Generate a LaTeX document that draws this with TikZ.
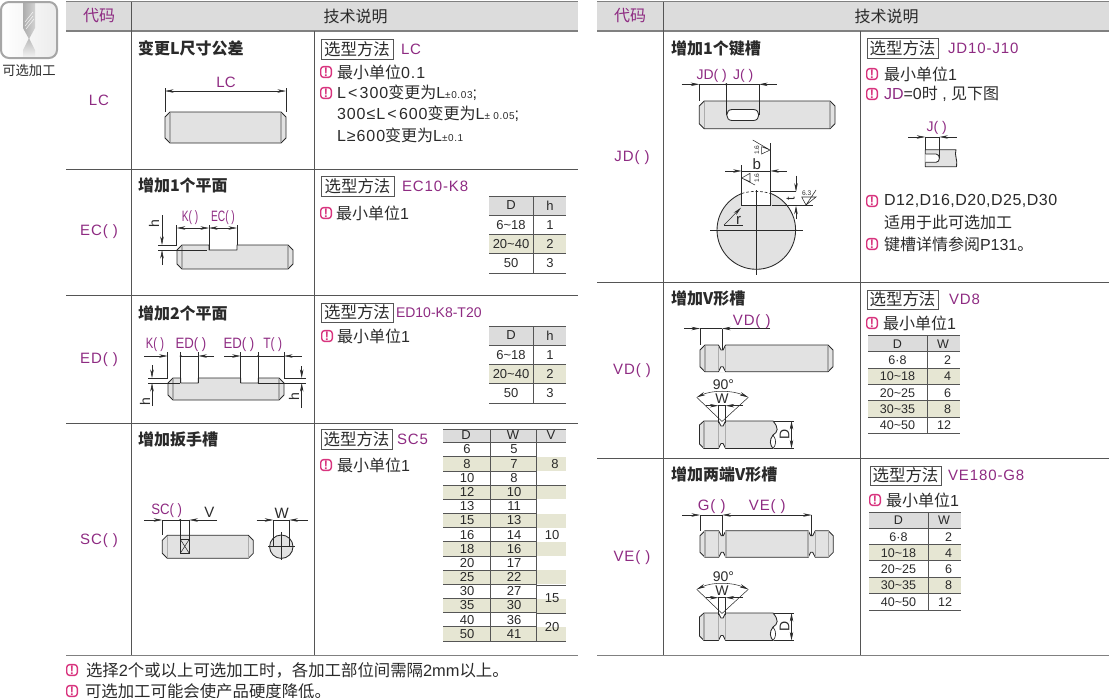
\documentclass[tikz,border=0pt]{standalone}
\usepackage{fontspec}
\setmainfont{Liberation Sans}
\newfontfamily\cjk{Noto Sans CJK SC}
\newfontfamily\spc[LetterSpace=6]{Liberation Sans}
\newfontfamily\spd[LetterSpace=3]{Liberation Sans}
\usetikzlibrary{arrows.meta}
\definecolor{pur}{HTML}{8E2B82}
\definecolor{ink}{HTML}{2A2A2A}
\definecolor{rule}{HTML}{555555}
\definecolor{headg}{HTML}{DCDCDC}
\definecolor{olive}{HTML}{E6E6D3}
\definecolor{body}{HTML}{E2E2E2}
\definecolor{pinkw}{HTML}{D8347E}
\newcommand\cn[1]{{\cjk #1}}
\newcommand\sgap{\hspace{.14em}}
\newcount\nid
\tikzset{
  x=0.75pt,y=-0.75pt,
  txt/.style={inner sep=0pt,outer sep=0pt,text=ink},
  ln/.style={draw=rule,line width=0.75pt},
  dim/.style={draw=ink,line width=0.4pt},
  tip/.style={-{Stealth[length=6.5pt,width=2.6pt]}},
  bitip/.style={{Stealth[length=6.5pt,width=2.6pt]}-{Stealth[length=6.5pt,width=2.6pt]}},
  part/.style={draw=ink,line width=0.65pt,fill=body,line join=round},
  sec/.style={draw=gray!65,line width=1pt},
  f10/.style={font=\fontsize{7.5}{9}\selectfont},
  f12/.style={font=\fontsize{9.4}{11}\selectfont},
  f13/.style={font=\fontsize{9.75}{12}\selectfont},
  f14/.style={font=\fontsize{10.5}{13}\selectfont},
  f15/.style={font=\fontsize{11.25}{14}\selectfont},
  f16/.style={font=\fontsize{12}{15}\selectfont},
  f16b/.style={font=\fontsize{12.35}{15}\selectfont},
}
% generic text: [opts]{x}{y}{text}
\newcommand\T[4][]{\global\advance\nid by 1 \node[txt,#1] (n\the\nid) at ({#2},{#3}) {#4};}
\newcommand\Pl[4][]{\T[anchor=center,text=pur,f15,#1]{#2}{#3}{\spc #4}}
\newcommand\warn[2]{%
  \draw[pinkw,line width=1.05pt,fill=white,rounded corners=2.2pt] ({#1-5.3},{#2-5.4}) rectangle ({#1+5.3},{#2+5.4});
  \T[text=pinkw,f12]{#1}{#2}{\textbf{!}}}
\newcommand\sel[6]{% x1 x2 y1 y2 code-x code
  \draw[draw=rule,line width=.6pt] (#1,#3) rectangle (#2,#4);
  \T[f16b]{(#1+#2)/2}{(#3+#4)/2}{\cn{选型方法}}
  \T[anchor=west,text=pur,f15]{#5}{(#3+#4)/2}{#6}}
\newcommand\cond[3]{\T[anchor=west,f16]{#1}{#2}{#3}}
\newcommand\bold[3]{\T[anchor=west,f16]{#1}{#2}{\cjk\bfseries #3}}
% pin: x1 x2 y1 y2
\newcommand\pin[4]{%
  \draw[part] ({#1+5},#3)--({#2-5},#3)--(#2,{#3+5})--(#2,{#4-5})--({#2-5},#4)--({#1+5},#4)--(#1,{#4-5})--(#1,{#3+5})--cycle;
  \draw[sec] ({#1+5},{#3+.6})--({#1+5},{#4-.6}) ({#2-5},{#3+.6})--({#2-5},{#4-.6});}
% groove over a pin: x y1 y2
\newcommand\groove[3]{%
  \fill[white] ({#1-3.6},{#2-1})--({#1+3.6},{#2-1})--({#1+1},{#2+5})--({#1-1},{#2+5})--cycle
    ({#1-3.6},{#3+1})--({#1+3.6},{#3+1})--({#1+1},{#3-5})--({#1-1},{#3-5})--cycle;
  \draw[ink,line width=.65pt] ({#1-3.6},#2)--({#1-1},{#2+5})--({#1+1},{#2+5})--({#1+3.6},#2)
    ({#1-3.6},#3)--({#1-1},{#3-5})--({#1+1},{#3-5})--({#1+3.6},#3);
  \draw[sec] ({#1-3.6},{#2+.6})--({#1-3.6},{#3-.6}) ({#1+3.6},{#2+.6})--({#1+3.6},{#3-.6});}
% lower view with 90 deg V
\newcommand\vlower[1]{%
  \begin{scope}[yshift=-#1*0.75pt]
  \draw[part] (704,421)--(773,421) .. controls (779,428) and (778,432) .. (773,435) .. controls (769,440) and (770,445) .. (773,448.5)--(704,448.5)--(699.5,444)--(699.5,425)--cycle;
  \draw[ink,line width=.5pt] (773,435) .. controls (777,440) and (776,445) .. (773,448.5);
  \draw[sec] (704,421.6)--(704,447.9);
  \groove{722}{421}{448.5}
  \draw[dim] (722,421.5)--(696.7,397.3) (722,421.5)--(748.3,397.3);
  \draw[dim,bitip] (696.7,397.3) .. controls (712,390) and (732,390) .. (748.3,397.3);
  \draw[dim] (718.4,405.7)--(718.4,423) (725.6,405.7)--(725.6,423);
  \draw[dim,tip] (706,405.7)--(718.4,405.7);
  \draw[dim,tip] (743,405.7)--(725.6,405.7);
  \draw[dim] (718.4,405.7)--(725.6,405.7);
  \draw[dim] (774,421)--(794,421) (774,448.5)--(794,448.5);
  \draw[dim,bitip] (791.5,421)--(791.5,448.5);
  \T[f14]{723.5}{384.5}{90°}
  \T[f14]{722}{398.5}{W}
  \T[f14,rotate=90]{784.5}{434.5}{D}
  \end{scope}}
\begin{document}
\begin{tikzpicture}
\useasboundingbox (0,0) rectangle (1110,697);
%% icon
\shade[left color=white,right color=gray!15,rounded corners=6pt] (1,2) rectangle (57,58);
\shade[left color=gray!65,right color=gray!35] (23,2)--(35,2)--(35,28)--(29,39)--(23,28)--cycle;
\draw[white,line width=.3pt] (25,22)--(33,12) (25,26)--(33,16) (26,29)--(34,19);
\shade[top color=gray!55,bottom color=gray!8] (29,38)--(35,50)--(35,58)--(23,58)--(23,50)--cycle;
\draw[draw=gray!70,line width=1.5pt,rounded corners=6pt] (1,2) rectangle (57,58);
\T[font=\fontsize{10}{12}\selectfont]{29}{70}{\cn{可选加工}}
%% header bands
\fill[headg] (66,2) rectangle (578,31);
\fill[headg] (597,2) rectangle (1109,31);
\draw[draw=gray,line width=1.2pt] (66,1.5)--(578,1.5) (597,1.5)--(1109,1.5);
\draw[draw=gray,line width=1.1pt] (66,31)--(578,31) (597,31)--(1109,31);
%% left rules
\draw[ln] (131,2)--(131,655) (314,31)--(314,655);
\draw[ln] (66,169)--(578,169) (66,295)--(578,295) (66,423)--(578,423);
\draw[draw=gray,line width=1.1pt] (66,655.5)--(578,655.5);
%% right rules
\draw[ln] (663,2)--(663,656) (860,31)--(860,656);
\draw[ln] (597,282)--(1109,282) (597,458)--(1109,458);
\draw[draw=gray,line width=.8pt] (597,655.5)--(1109,655.5);
%% header text
\T[text=pur,f16]{99}{16}{\cn{代码}}
\T[f16]{355.5}{16}{\cn{技术说明}}
\T[text=pur,f16]{630}{16}{\cn{代码}}
\T[f16]{886.5}{16}{\cn{技术说明}}
%% codes
\Pl{99}{100}{LC}
\Pl{99}{232}{EC( )}
\Pl{99}{360}{ED( )}
\Pl{99}{541}{SC( )}
\Pl{632}{158}{JD( )}
\Pl{632}{371}{VD( )}
\Pl{632}{558}{VE( )}
%% titles
\bold{138}{48.5}{变更L尺寸公差}
\bold{138}{185}{增加1个平面}
\bold{138}{313}{增加2个平面}
\bold{138}{439}{增加扳手槽}
\bold{671}{48}{增加1个键槽}
\bold{671}{298.5}{增加V形槽}
\bold{671}{474}{增加两端V形槽}
%% selection
\sel{321}{393}{39}{59}{401}{\spc LC}
\sel{321}{394}{176}{196}{402}{\spc EC10-K8}
\sel{321}{393}{303}{322}{396}{\fontsize{10.5}{13}\selectfont ED10-K8-T20}
\sel{321}{392}{429}{449}{397}{\spc SC5}
\sel{867}{938}{38}{58}{948}{\spc JD10-J10}
\sel{867}{938}{290}{309}{949}{\spc VD8}
\sel{870}{941}{466}{485}{948}{\spc VE180-G8}
%% conditions LC
\warn{326}{72}
\cond{337}{72}{\cn{最小单位}{\spc 0.1}}
\warn{326}{93}
\cond{337}{93}{\spc L\sgap<\sgap 300\cn{变更为}L{\fontsize{7.5}{9}\selectfont ±0.03};}
\cond{337}{114}{\spc 300≤L\sgap<\sgap 600\cn{变更为}L{\fontsize{7.5}{9}\selectfont ± 0.05};}
\cond{337}{135}{\spc L≥600\cn{变更为}L{\fontsize{7.5}{9}\selectfont ±0.1}}
\warn{326}{213}
\cond{336}{213}{\cn{最小单位}1}
\warn{327}{336}
\cond{337}{336}{\cn{最小单位}1}
\warn{326}{465}
\cond{337}{465}{\cn{最小单位}1}
\warn{872}{74}
\cond{884}{74}{\cn{最小单位}1}
\warn{872}{94}
\cond{884}{94}{\textcolor{pur}{JD}=0\cn{时} , \cn{见下图}}
\warn{872}{201}
\cond{884}{201}{\spd D12,D16,D20,D25,D30}
\cond{884}{222}{\cn{适用于此可选加工}}
\warn{872}{244}
\cond{884}{244}{\cn{键槽详情参阅}P131\cn{。}}
\warn{872}{323}
\cond{883}{323}{\cn{最小单位}1}
\warn{875}{500}
\cond{886}{500}{\cn{最小单位}1}
%% footnotes
\warn{72}{670}
\T[anchor=west,font=\fontsize{12.3}{15}\selectfont]{86}{670}{\cn{选择}2\cn{个或以上可选加工时，各加工部位间需隔}2mm\cn{以上。}}
\warn{72}{691}
\T[anchor=west,font=\fontsize{12.3}{15}\selectfont]{85}{691}{\cn{可选加工可能会使产品硬度降低。}}
%% D/h tables
\foreach \yb in {0,130}{
  \begin{scope}[yshift=-\yb*0.75pt]
  \fill[headg] (489,196) rectangle (566,215);
  \fill[olive] (489,234) rectangle (566,253);
  \draw[ln] (489,196)--(566,196) (489,215)--(566,215) (489,234)--(566,234) (489,253)--(566,253) (489,273)--(566,273) (533,196)--(533,273);
  \end{scope}}
\T[f13]{511}{205.5}{D}\T[f13]{550}{205.5}{h}
\T[f13]{511}{225}{6\textasciitilde18}\T[f13]{550}{225}{1}
\T[f13]{511}{244}{20\textasciitilde40}\T[f13]{550}{244}{2}
\T[f13]{511}{263.5}{50}\T[f13]{550}{263.5}{3}
\T[f13]{511}{335.5}{D}\T[f13]{550}{335.5}{h}
\T[f13]{511}{355}{6\textasciitilde18}\T[f13]{550}{355}{1}
\T[f13]{511}{374}{20\textasciitilde40}\T[f13]{550}{374}{2}
\T[f13]{511}{393.5}{50}\T[f13]{550}{393.5}{3}
%% SC table
\fill[headg] (443,429) rectangle (566,442.7);
\foreach \i in {1,3,...,13}{\fill[olive] (443,{442.7+\i*14.17}) rectangle (566,{442.7+\i*14.17+14.17});}
\draw[ln] (443,429)--(566,429) (443,442.7)--(566,442.7);
\foreach \i in {1,...,14}{\draw[ln] (443,{442.7+\i*14.17})--(536,{442.7+\i*14.17});}
\draw[ln] (536,485)--(566,485) (536,585)--(566,585) (536,613.3)--(566,613.3) (536,641)--(566,641);
\draw[ln] (490,429)--(490,641) (536,429)--(536,641);
\T[f13]{466}{435.5}{D}\T[f13]{513}{435.5}{W}\T[f13]{551}{435.5}{V}
\foreach \i/\a/\b in {0/6/5,1/8/7,2/10/8,3/12/10,4/13/11,5/15/13,6/16/14,7/18/16,8/20/17,9/25/22,10/30/27,11/35/30,12/40/36,13/50/41}{
  \T[f13]{467}{449.5+\i*14.17}{\a}
  \T[f13]{514}{449.5+\i*14.17}{\b}}
\T[f13]{555}{464.5}{8}
\T[f13]{552}{535.5}{10}
\T[f13]{552}{598}{15}
\T[f13]{552}{627}{20}
%% VD/VE tables
\foreach \dx/\dy in {0/0,1/176.5}{
\begin{scope}[xshift=\dx*0.75pt,yshift=-\dy*0.75pt]
  \fill[headg] (868,335.7) rectangle (960,351.7);
  \fill[olive] (868,368) rectangle (960,384);
  \fill[olive] (868,400.5) rectangle (960,417);
  \draw[ln] (868,335.7)--(960,335.7) (868,351.7)--(960,351.7) (868,368)--(960,368) (868,384)--(960,384) (868,400.5)--(960,400.5) (868,417)--(960,417) (868,433.5)--(960,433.5) (927,335.7)--(927,433.5);
  \T[f12]{897.5}{343.7}{D}\T[f12]{943}{343.7}{W}
  \T[f12]{897.5}{360.5}{6·8}\T[anchor=east,f12]{951}{360.5}{2}
  \T[f12]{897.5}{376.5}{10\textasciitilde18}\T[anchor=east,f12]{951}{376.5}{4}
  \T[f12]{897.5}{392.7}{20\textasciitilde25}\T[anchor=east,f12]{951}{392.7}{6}
  \T[f12]{897.5}{409}{30\textasciitilde35}\T[anchor=east,f12]{951}{409}{8}
  \T[f12]{897.5}{425.5}{40\textasciitilde50}\T[anchor=east,f12]{951}{425.5}{12}
\end{scope}}
%% LC drawing
\pin{165}{286}{112}{143}
\draw[dim] (165,88)--(165,112) (286,88)--(286,112);
\draw[dim,bitip] (165,91)--(286,91);
\T[text=pur,f15]{226}{82}{LC}
%% EC drawing
\draw[part] (182,245)--(209,245)--(209,250)--(237,250)--(237,245)--(288,245)--(293,250)--(293,264)--(288,269)--(182,269)--(177,264)--(177,250)--cycle;
\draw[sec] (182,245.6)--(182,268.4) (288,245.6)--(288,268.4);
\draw[dim] (176.7,225)--(176.7,245) (209,225)--(209,250) (237,225)--(237,245);
\draw[dim,tip] (192,228)--(176.7,228);
\draw[dim,tip] (192,228)--(209,228);
\draw[dim,tip] (223,228)--(209,228);
\draw[dim,tip] (223,228)--(237,228);
\T[text=pur,f15,xscale=.68]{190}{218}{K( )}
\T[text=pur,f15,xscale=.68]{223}{218}{EC( )}
\draw[dim] (158,245)--(177,245) (158,250)--(207,250);
\draw[dim,tip] (162,215)--(162,245);
\draw[dim,tip] (162,265)--(162,250);
\T[f14,rotate=90]{154}{224}{h}
%% ED drawing
\draw[part] (173,378)--(180.7,378)--(180.7,383)--(198.3,383)--(198.3,378)--(240.7,378)--(240.7,383)--(258.3,383)--(258.3,378)--(279,378)--(284,383)--(284,395)--(279,400)--(173,400)--(168,395)--(168,383)--cycle;
\draw[sec] (173,378.6)--(173,399.4) (279,378.6)--(279,399.4);
\draw[dim] (167.7,352)--(167.7,378) (180.7,352)--(180.7,383) (198.3,352)--(198.3,383) (240.7,352)--(240.7,383) (258.3,352)--(258.3,383) (284,352)--(284,378);
\draw[dim,tip] (144,356)--(167.7,356);
\draw[dim,tip] (214,356)--(198.3,356);
\draw[dim] (180.7,356)--(198.3,356) (240.7,356)--(284,356);
\draw[dim,tip] (224,356)--(240.7,356);
\draw[dim,tip] (301.7,356)--(284,356);
\fill[ink] (180.7,356) circle [radius=1.2] (258.3,356) circle [radius=1.2];
\T[text=pur,f15,xscale=.75]{155}{345}{K( )}
\T[text=pur,f15,xscale=.88]{191}{345}{ED( )}
\T[text=pur,f15,xscale=.88]{239}{345}{ED( )}
\T[text=pur,f15,xscale=.8]{272.7}{345}{T( )}
\draw[dim] (148,378)--(168,378) (148,383)--(180,383) (258,383)--(306,383) (284,378)--(306,378);
\draw[dim,tip] (152,365)--(152,378);
\draw[dim,tip] (152,406)--(152,383);
\draw[dim,tip] (301.7,366)--(301.7,378);
\draw[dim,tip] (301.7,408)--(301.7,383);
\T[f14,rotate=90]{145}{402}{h}
\T[f14,rotate=90]{294}{397}{h}
%% SC drawing
\pin{162.3}{253.3}{535.3}{558.3}
\draw[dim,fill=body] (180.3,539.3) rectangle (189.3,553.3);
\draw[dim] (180.3,539.3)--(189.3,553.3) (189.3,539.3)--(180.3,553.3);
\draw[dim] (162.3,520)--(162.3,535) (180.3,520)--(180.3,539.3) (189.3,520)--(189.3,539.3) (162.3,520)--(189.3,520);
\draw[dim,tip] (144.3,520)--(162.3,520);
\draw[dim,tip] (217,520)--(189.3,520);
\fill[ink] (180.3,520) circle [radius=1.2];
\T[text=pur,f15,xscale=.88]{166.7}{511}{SC( )}
\T[f15]{209.3}{512}{V}
\draw[part,fill=body] (281.3,546.7) circle [radius=11.7];
\draw[dim] (268,546.7)--(295,546.7) (281.3,532)--(281.3,560);
\draw[dim] (273.3,520)--(273.3,546) (289.3,520)--(289.3,546);
\draw[dim,tip] (256.7,520)--(273.3,520);
\draw[dim,tip] (307.7,520)--(289.3,520);
\draw[dim] (273.3,520)--(289.3,520);
\T[f15]{281.7}{513}{W}
%% JD drawing
\pin{699.3}{835}{101}{128.7}
\draw[ink,line width=.65pt,fill=white] (732,109.5)--(753.5,109.5) .. controls (760.5,109.5) and (760.5,120.5) .. (753.5,120.5)--(732,120.5) .. controls (725,120.5) and (725,109.5) .. (732,109.5)--cycle;
\draw[dim] (699.3,84.3)--(699.3,101) (726.3,84.3)--(726.3,115) (759,84.3)--(759,115) (699.3,84.3)--(759,84.3);
\draw[dim,tip] (681.7,84.3)--(699.3,84.3);
\draw[dim,tip] (776.7,84.3)--(759,84.3);
\fill[ink] (726.3,84.3) circle [radius=1.3];
\T[text=pur,f14]{711.7}{75.7}{JD( )}
\T[text=pur,f14]{743.3}{75.7}{J( )}
\draw[part] (756.3,230) circle [radius=39.3];
\fill[white] (741.7,186) rectangle (770.3,205.7);
\draw[ink,line width=.65pt] (741.7,192.8)--(741.7,205.7)--(770.3,205.7)--(770.3,192.8);
\draw[ink,line width=.5pt,dash pattern=on 2pt off 1.5pt] (741.7,193.5) .. controls (750,190.7) and (762,190.7) .. (770.3,193.5);
\draw[dim] (741.7,165)--(741.7,193) (770.3,143)--(770.3,193);
\draw[dim] (710,230)--(803,230) (756.3,190)--(756.3,275);
\draw[dim,tip] (725,171)--(741.7,171);
\draw[dim,tip] (786.7,171)--(770.3,171);
\draw[dim] (741.7,171)--(770.3,171);
\T[f15]{756.7}{164}{b}
\draw[dim,tip] (724,225)--(741,207.7);
\draw[dim] (724,225)--(743,225);
\T[f15]{738.7}{220}{r}
\draw[dim] (771.7,205.7)--(812.7,205.7) (770.3,191.7)--(796,191.7);
\draw[dim,tip] (796,175.7)--(796,191.7);
\draw[dim,tip] (796,219)--(796,205.7);
\T[f12,rotate=90]{790.7}{199}{t}
\draw[dim] (806,205)--(801.7,197)--(816,197)--cycle (806,205)--(816,190);
\T[font=\fontsize{5}{6}\selectfont]{806.7}{193}{6.3}
\draw[dim] (770,150)--(761.7,146.7)--(761.7,154)--cycle (770,150)--(752.7,140);
\T[font=\fontsize{5}{6}\selectfont,rotate=90]{756.7}{150}{1.6}
\draw[dim] (741.7,178)--(750,173.3)--(750,181.7)--cycle (741.7,178)--(755,185);
\T[font=\fontsize{5}{6}\selectfont,rotate=90]{756.7}{178}{1.6}
%% small J diagram
\draw[part] (925.3,149.7)--(956,149.7) .. controls (954,155) and (958,160) .. (956.5,166.7)--(925.3,166.7)--cycle;
\draw[ink,line width=.65pt,fill=white] (925.3,154)--(936,154) .. controls (940.5,154) and (940.5,162.3) .. (936,162.3)--(925.3,162.3);
\draw[dim] (925.3,137)--(925.3,150) (939.3,137)--(939.3,158) (925.3,137)--(939.3,137);
\draw[dim,tip] (908,137)--(925.3,137);
\draw[dim,tip] (956.7,137)--(939.3,137);
\T[text=pur,f14]{936.7}{128}{J( )}
%% VD drawing
\pin{700}{833}{345}{371.7}
\groove{722}{345}{371.7}
\draw[dim] (700,328.5)--(700,345) (722,328.5)--(722,350) (700,328.5)--(722,328.5);
\draw[dim,tip] (684.3,328.5)--(700,328.5);
\draw[dim,tip] (770,328.5)--(722,328.5);
\T[text=pur,f15]{751.7}{321.7}{\spc VD( )}
\vlower{0}
%% VE drawing
\pin{700}{833.3}{530.7}{557.3}
\groove{722.3}{530.7}{557.3}
\groove{811.7}{530.7}{557.3}
\draw[dim] (700,515)--(700,530.7) (722.3,515)--(722.3,535.7) (811.7,515)--(811.7,535.7);
\draw[dim,tip] (682,515)--(700,515);
\draw[dim] (700,515)--(722.3,515);
\draw[dim,bitip] (722.3,515)--(811.7,515);
\T[text=pur,f15]{711.7}{506.7}{\spc G( )}
\T[text=pur,f15]{767.3}{506.7}{\spc VE( )}
\vlower{192}
\end{tikzpicture}
\end{document}
